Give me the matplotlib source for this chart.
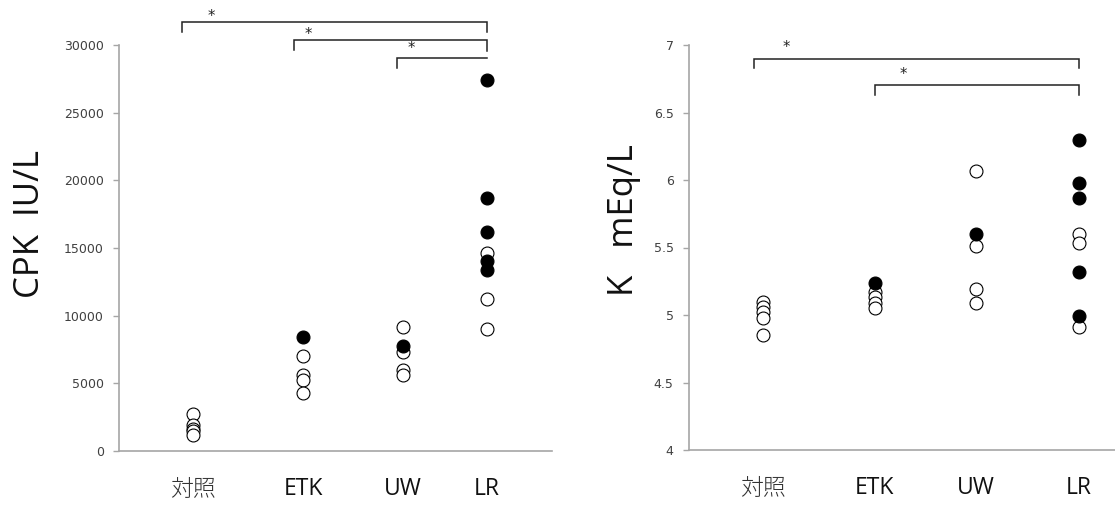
import matplotlib
matplotlib.use("Agg")
import matplotlib.pyplot as plt
from matplotlib.ticker import FuncFormatter

# ---------------- data ----------------
categories = ["対照", "ETK", "UW", "LR"]

# CPK (IU/L): open circles / filled circles per group
cpk_open = {
    "対照": [2750, 1900, 1650, 1450, 1200],
    "ETK": [7000, 5600, 5250, 4300],
    "UW": [9140, 7340, 5990, 5620],
    "LR": [14650, 11210, 9040],
}
cpk_filled = {
    "対照": [],
    "ETK": [8450],
    "UW": [7780],
    "LR": [27420, 18670, 16210, 14060, 13370],
}

# K (mEq/L)
k_open = {
    "対照": [5.10, 5.06, 5.02, 4.98, 4.85],
    "ETK": [5.17, 5.13, 5.09, 5.05],
    "UW": [6.07, 5.51, 5.19, 5.09],
    "LR": [5.60, 5.53, 4.91],
}
k_filled = {
    "対照": [],
    "ETK": [5.235],
    "UW": [5.60],
    "LR": [6.30, 5.98, 5.87, 5.32, 4.99],
}

cpk_ticks = [0, 5000, 10000, 15000, 20000, 25000, 30000]
k_ticks = [4, 4.5, 5, 5.5, 6, 6.5, 7]

# ---------------- layout ----------------
W, H = 1115, 507
fig = plt.figure(figsize=(W / 100, H / 100), dpi=100)

axis_grey = "#a6a6a6"
tick_col = "#404040"
cat_font = ["Open Sans", "Noto Sans CJK JP", "DejaVu Sans"]

def px_axes(x0, x1, ytop, ybot):
    return fig.add_axes([x0 / W, (H - ybot) / H, (x1 - x0) / W, (ybot - ytop) / H])

axL = px_axes(119, 552, 45, 451)
axR = px_axes(689, 1115, 45, 450)

# x positions (layout) on a 0..5 scale per axes
posL = [0.855, 2.125, 3.28, 4.25]
posR = [0.87, 2.18, 3.37, 4.575]

msize = 9.3

def draw(ax, pos, opn, fil, ylim, ticks, fmt):
    for p, c in zip(pos, categories):
        ys = opn[c]
        ax.plot([p] * len(ys), ys, "o", ms=msize, mfc="white", mec="black",
                mew=0.8, ls="none", zorder=3, clip_on=False)
        ys = fil[c]
        ax.plot([p] * len(ys), ys, "o", ms=msize, mfc="black", mec="black",
                mew=0.8, ls="none", zorder=4, clip_on=False)
    ax.set_xlim(0, 5)
    ax.set_ylim(*ylim)
    ax.set_yticks(ticks)
    ax.yaxis.set_major_formatter(FuncFormatter(fmt))
    ax.set_xticks(pos)
    ax.set_xticklabels(categories, fontsize=16.5, family=cat_font, color="#111111")
    labs = ax.get_xticklabels()
    labs[0].set_family(["Noto Sans CJK JP", "DejaVu Sans"])
    labs[0].set_fontweight("light")
    labs[0].set_color("#333333")
    ax.tick_params(axis="x", length=0, pad=19)
    ax.tick_params(axis="y", length=4, width=1, color=axis_grey, pad=7,
                   labelsize=9, labelcolor=tick_col)
    for lab in ax.get_yticklabels():
        lab.set_family(["DejaVu Sans"])
    for s in ("top", "right"):
        ax.spines[s].set_visible(False)
    for s in ("left", "bottom"):
        ax.spines[s].set_color(axis_grey)
        ax.spines[s].set_linewidth(1.2)

draw(axL, posL, cpk_open, cpk_filled, (0, 30000), cpk_ticks,
     lambda v, _: f"{int(v)}")
draw(axR, posR, k_open, k_filled, (4, 7), k_ticks,
     lambda v, _: f"{v:g}")

def bracket(ax, x0, x1, y, yl, yr, sx, sy):
    ax.plot([x0, x0, x1, x1], [yl, y, y, yr], color="#222222", lw=1.1,
            clip_on=False, solid_joinstyle="miter", zorder=5)
    ax.annotate("*", xy=(sx, sy), xytext=(0, -1.5), textcoords="offset points",
                ha="center", va="center", fontsize=10.5, color="#222222",
                family=["DejaVu Sans"], annotation_clip=False)

# left brackets
bracket(axL, 0.727, posL[3], 31725, 30960, 30960, 1.062, 32290)
bracket(axL, 2.02, posL[3], 30370, 29630, 29560, 2.18, 30960)
bracket(axL, 3.21, posL[3], 29020, 28300, 29020 - 0.1, 3.37, 29930)

# right brackets
bracket(axR, 0.763, 4.577, 6.90, 6.83, 6.83, 1.14, 7.0)
bracket(axR, 2.18, 4.577, 6.704, 6.63, 6.63, 2.52, 6.80)

# y axis titles
fig.text(30 / W, 1 - 224 / H, "CPK  IU/L", rotation=90, ha="center", va="center",
         fontsize=25, family=["Open Sans", "DejaVu Sans"], color="#111111")
fig.text(624 / W, 1 - 220 / H, "K   mEq/L", rotation=90, ha="center", va="center",
         fontsize=25, family=["Open Sans", "DejaVu Sans"], color="#111111")

fig.savefig("out.png", dpi=100, facecolor="white")
